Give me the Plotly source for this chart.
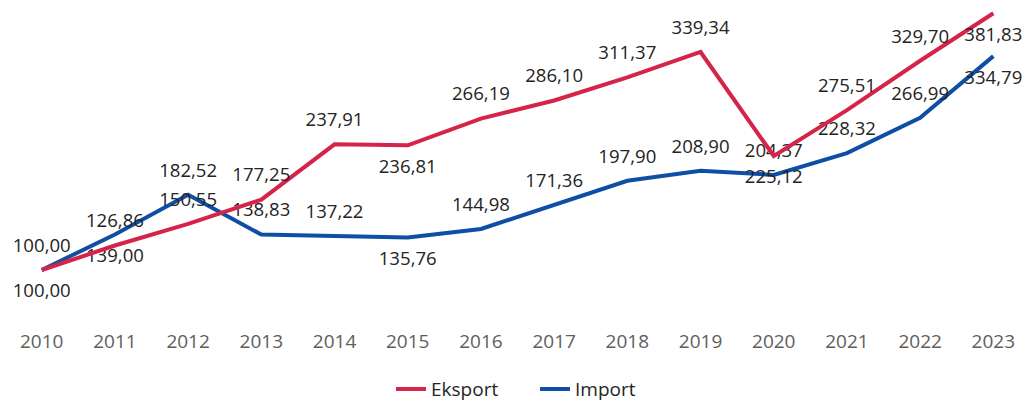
import plotly.graph_objects as go

years = ["2010", "2011", "2012", "2013", "2014", "2015", "2016",
         "2017", "2018", "2019", "2020", "2021", "2022", "2023"]
eksport = [100.00, 126.86, 150.55, 177.25, 237.91, 236.81, 266.19,
           286.10, 311.37, 339.34, 225.12, 275.51, 329.70, 381.83]
impor = [100.00, 139.00, 182.52, 138.83, 137.22, 135.76, 144.98,
         171.36, 197.90, 208.90, 204.37, 228.32, 266.99, 334.79]

eks_pos = ["top center"] * 5 + ["bottom center"] + ["top center"] * 4 + \
          ["bottom center"] + ["top center"] * 2 + ["bottom center"]
imp_pos = ["bottom center"] * 2 + ["top center"] * 3 + ["bottom center"] + \
          ["top center"] * 7 + ["bottom center"]

RED = "#D6234A"
BLUE = "#0F4EA5"
FONT = "Open Sans"


def fmt(v):
    return f"{v:.2f}".replace(".", ",")


fig = go.Figure()
fig.add_trace(go.Scatter(
    x=years, y=impor, name="Import", mode="lines+markers+text",
    line=dict(color=BLUE, width=4),
    marker=dict(size=20, color="rgba(0,0,0,0)"),
    text=[fmt(v) for v in impor], textposition=imp_pos,
    textfont=dict(family=FONT, size=18.6, color="#252423"),
    cliponaxis=False, legendrank=2,
))
fig.add_trace(go.Scatter(
    x=years, y=eksport, name="Eksport", mode="lines+markers+text",
    line=dict(color=RED, width=4),
    marker=dict(size=20, color="rgba(0,0,0,0)"),
    text=[fmt(v) for v in eksport], textposition=eks_pos,
    textfont=dict(family=FONT, size=18.6, color="#252423"),
    cliponaxis=False, legendrank=1,
))

fig.update_layout(
    width=1026, height=404,
    margin=dict(l=0, r=0, t=0, b=84, autoexpand=False),
    paper_bgcolor="white", plot_bgcolor="white",
    font=dict(family=FONT, size=18, color="#252423"),
    showlegend=True,
    legend=dict(orientation="h", x=391 / 1026, xanchor="left",
                y=-0.216, yanchor="middle",
                entrywidth=99, entrywidthmode="pixels",
                font=dict(family=FONT, size=19, color="#252423"),
                traceorder="normal"),
    xaxis=dict(type="category", range=[-0.570, 13.446],
               showgrid=False, zeroline=False, showline=False,
               tickfont=dict(family=FONT, size=19, color="#605E5C"),
               ticks="outside", ticklen=4, tickcolor="rgba(0,0,0,0)",
               fixedrange=True),
    yaxis=dict(range=[45.1, 396.4], visible=False, showgrid=False,
               zeroline=False, fixedrange=True),
)

fig.write_html(
    "out.html",
    config={"displayModeBar": False},
    post_script="document.body.style.margin='0';"
                "document.body.style.overflow='hidden';",
)
